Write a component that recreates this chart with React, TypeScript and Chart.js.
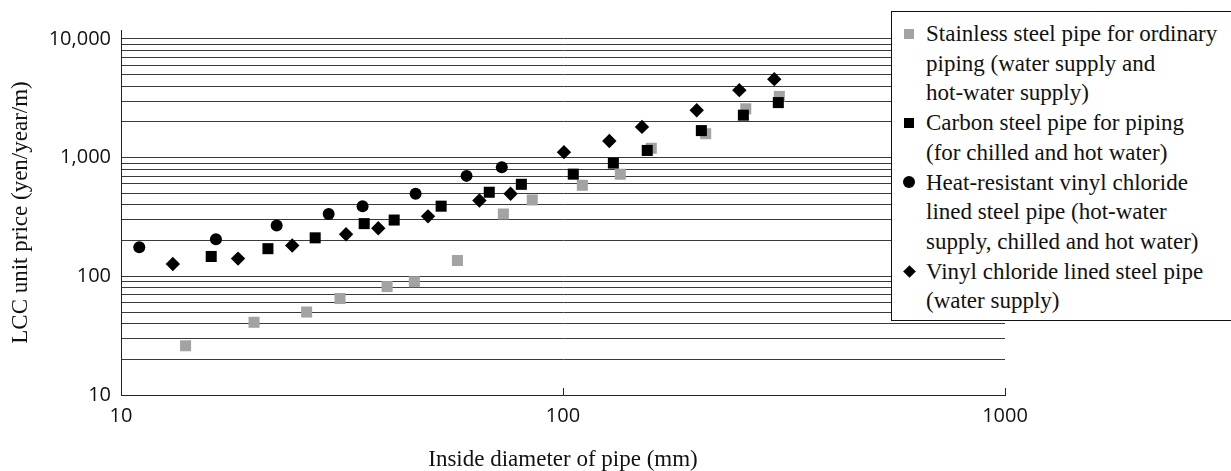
import React, { useEffect, useRef } from "react";
import { Chart, registerables } from "chart.js";

Chart.register(...registerables);

// ---- Data (inside diameter in mm, LCC unit price in yen/year/m) ----
const stainlessX = [14.0, 20.0, 26.3, 31.3, 40.0, 46.1, 57.7, 73.3, 85.2, 110.6, 134.8, 158.4, 210.3, 259.1, 308.6];
const stainlessY = [26, 41, 50, 65, 82, 90, 136, 335, 440, 585, 725, 1200, 1590, 2580, 3280];

const carbonX = [16.0, 21.5, 27.5, 35.5, 41.5, 53.0, 68.1, 80.5, 105.5, 130.0, 155.1, 205.6, 255.9, 307.0];
const carbonY = [147, 171, 211, 278, 298, 390, 511, 596, 726, 900, 1150, 1690, 2280, 2910];

const heatX = [11.0, 16.4, 22.5, 29.5, 35.2, 46.4, 60.5, 72.7];
const heatY = [176, 205, 268, 335, 390, 497, 702, 830];

const vinylX = [13.1, 18.4, 24.4, 32.3, 38.2, 49.5, 64.7, 76.1, 100.5, 127.3, 150.9, 200.7, 250.6, 300.6];
const vinylY = [127, 141, 182, 226, 254, 320, 435, 497, 1113, 1380, 1815, 2506, 3704, 4585];

const yTickValues = [10, 20, 30, 40, 50, 60, 70, 80, 90, 100, 200, 300, 400, 500, 600, 700, 800, 900, 1000, 2000, 3000, 4000, 5000, 6000, 7000, 8000, 9000, 10000];
const yLabelValues = [10, 100, 1000, 10000];
const xTickValues = [10, 100, 1000];

const seriesNames = [
  "Stainless steel pipe for ordinary piping (water supply and hot-water supply)",
  "Carbon steel pipe for piping (for chilled and hot water)",
  "Heat-resistant vinyl chloride lined steel pipe (hot-water supply, chilled and hot water)",
  "Vinyl chloride lined steel pipe (water supply)",
];
const legendLines = [
  ["Stainless steel pipe for ordinary", "piping (water supply and", "hot-water supply)"],
  ["Carbon steel pipe for piping", "(for chilled and hot water)"],
  ["Heat-resistant vinyl chloride", "lined steel pipe (hot-water", "supply, chilled and hot water)"],
  ["Vinyl chloride lined steel pipe", "(water supply)"],
];

const xTitle = "Inside diameter of pipe (mm)";
const yTitle = "LCC unit price (yen/year/m)";

const GRAY = "#a3a3a3";
const BLACK = "#000000";

function zip(xs: number[], ys: number[]) {
  return xs.map((x, i) => ({ x, y: ys[i] }));
}

const xTickMarks = {
  id: "xTickMarks",
  afterDatasetsDraw(chart: any) {
    const sx = chart.scales.x;
    const ctx = chart.ctx;
    ctx.save();
    ctx.strokeStyle = "#222";
    ctx.lineWidth = 1;
    sx.ticks.forEach((t: any) => {
      const px = Math.round(sx.getPixelForValue(t.value)) + 0.5;
      ctx.beginPath();
      ctx.moveTo(px, sx.top);
      ctx.lineTo(px, sx.top - 7);
      ctx.stroke();
    });
    ctx.restore();
  },
};

function LegendMarker({ kind }: { kind: number }) {
  const base: React.CSSProperties = { display: "inline-block" };
  if (kind === 0) return <span style={{ ...base, width: 10, height: 10, background: GRAY }} />;
  if (kind === 1) return <span style={{ ...base, width: 10, height: 10, background: BLACK }} />;
  if (kind === 2) return <span style={{ ...base, width: 12, height: 12, borderRadius: 6, background: BLACK }} />;
  return <span style={{ ...base, width: 9, height: 9, background: BLACK, transform: "rotate(45deg)" }} />;
}

export default function App() {
  const canvasRef = useRef<HTMLCanvasElement | null>(null);

  useEffect(() => {
    if (!canvasRef.current) return;
    const chart = new Chart(canvasRef.current, {
      type: "scatter",
      data: {
        datasets: [
          {
            label: seriesNames[0],
            data: zip(stainlessX, stainlessY),
            pointStyle: "rect",
            pointRadius: 7.8,
            backgroundColor: GRAY,
            borderWidth: 0,
            order: 4,
          },
          {
            label: seriesNames[1],
            data: zip(carbonX, carbonY),
            pointStyle: "rect",
            pointRadius: 7.8,
            backgroundColor: BLACK,
            borderWidth: 0,
            order: 3,
          },
          {
            label: seriesNames[2],
            data: zip(heatX, heatY),
            pointStyle: "circle",
            pointRadius: 6,
            backgroundColor: BLACK,
            borderWidth: 0,
            order: 2,
          },
          {
            label: seriesNames[3],
            data: zip(vinylX, vinylY),
            pointStyle: "rectRot",
            pointRadius: 7.2,
            backgroundColor: BLACK,
            borderWidth: 0,
            order: 1,
          },
        ],
      },
      options: {
        animation: false,
        responsive: false,
        events: [],
        layout: { padding: { top: 30, right: 226, left: 0, bottom: 0 } },
        plugins: {
          legend: { display: false },
          tooltip: { enabled: false },
          title: { display: false },
        },
        scales: {
          x: {
            type: "logarithmic",
            position: "bottom",
            min: 10,
            max: 1000,
            bounds: "data",
            afterBuildTicks: (scale: any) => {
              scale.ticks = xTickValues.map((v) => ({ value: v }));
            },
            afterFit: (scale: any) => {
              scale.height = 76;
            },
            grid: { display: false, drawTicks: false },
            border: { display: true, color: "#222", width: 1 },
            ticks: {
              autoSkip: false,
              maxRotation: 0,
              padding: 9,
              color: "#111",
              font: { family: "'Open Sans', sans-serif", size: 20 },
              callback: (v: any) => String(v),
            },
            title: {
              display: true,
              text: xTitle,
              color: "#111",
              padding: 0,
              font: { family: "'Liberation Serif', serif", size: 23, lineHeight: 1 },
            },
          },
          y: {
            type: "logarithmic",
            position: "left",
            min: 10,
            max: 11900,
            bounds: "data",
            afterBuildTicks: (scale: any) => {
              scale.ticks = yTickValues.map((v) => ({ value: v }));
            },
            afterFit: (scale: any) => {
              scale.width = 121;
            },
            grid: { display: true, drawTicks: false, color: "#3a3a3a", lineWidth: 1 },
            border: { display: true, color: "#222", width: 1 },
            ticks: {
              autoSkip: false,
              padding: 10,
              color: "#111",
              font: { family: "'Open Sans', sans-serif", size: 20 },
              callback: (v: any) => {
                const n = Number(v);
                return yLabelValues.includes(n) ? n.toLocaleString("en-US") : "";
              },
            },
            title: {
              display: true,
              text: yTitle,
              color: "#111",
              padding: { top: 9, bottom: 0 },
              font: { family: "'Liberation Serif', serif", size: 23, lineHeight: 1 },
            },
          },
        },
      },
      plugins: [xTickMarks],
    });
    return () => chart.destroy();
  }, []);

  return (
    <div
      style={{
        position: "fixed",
        left: 0,
        top: 0,
        width: 1231,
        height: 471,
        background: "#fff",
        overflow: "hidden",
      }}
    >
      <canvas ref={canvasRef} width={1231} height={471} style={{ width: 1231, height: 471, display: "block" }} />
      <div
        style={{
          position: "absolute",
          left: 891,
          top: 11,
          width: 440,
          height: 310,
          background: "#fff",
          borderTop: "1px solid #111",
          borderLeft: "1px solid #111",
          borderBottom: "1px solid #111",
          boxSizing: "border-box",
          paddingTop: 7,
          fontFamily: "'Liberation Serif', serif",
          fontSize: 23,
          lineHeight: "29.7px",
          color: "#111",
          whiteSpace: "nowrap",
        }}
      >
        {legendLines.map((lines, i) => (
          <div key={i} style={{ display: "flex", alignItems: "flex-start" }}>
            <div style={{ width: 34, height: 29.7, display: "flex", alignItems: "center", justifyContent: "center" }}>
              <LegendMarker kind={i} />
            </div>
            <div>
              {lines.map((l, j) => (
                <div key={j}>{l}</div>
              ))}
            </div>
          </div>
        ))}
      </div>
    </div>
  );
}
